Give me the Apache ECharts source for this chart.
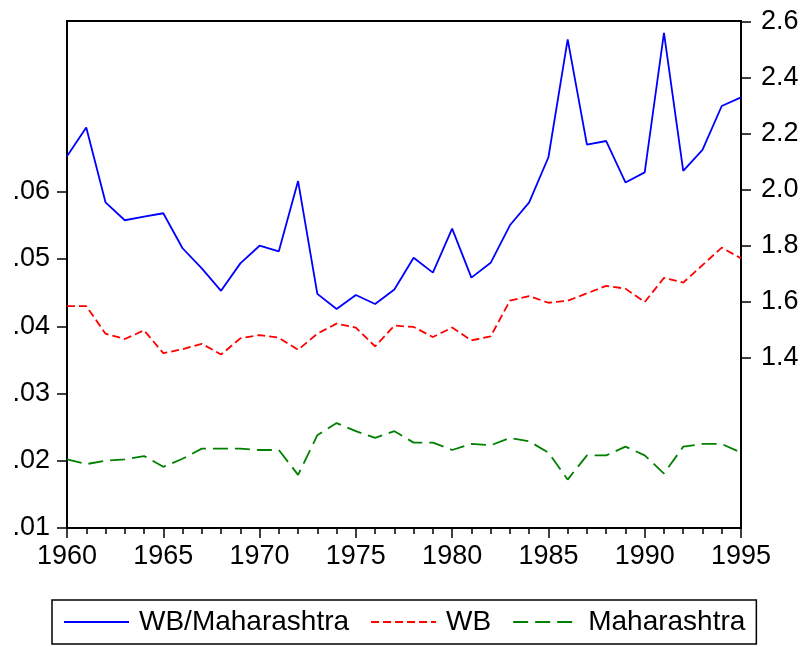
<!DOCTYPE html>
<html>
<head>
<meta charset="utf-8">
<script src="https://cdn.jsdelivr.net/npm/echarts@6/dist/echarts.min.js"></script>
<style>
  html, body { margin: 0; padding: 0; background: #fff; }
  #container { width: 806px; height: 647px; }
</style>
</head>
<body>
<div id="container"></div>
<script>
// years 1960..1995
var years = [];
for (var y = 1960; y <= 1995; y++) years.push(y);

// ratio, plotted on the right axis
var wbMaharashtra = [2.121, 2.223, 1.956, 1.892, 1.905, 1.917, 1.792, 1.720, 1.640, 1.738,
    1.801, 1.781, 2.032, 1.629, 1.575, 1.625, 1.593, 1.645, 1.758, 1.705,
    1.862, 1.687, 1.740, 1.874, 1.956, 2.117, 2.538, 2.162, 2.175, 2.027,
    2.063, 2.561, 2.068, 2.143, 2.300, 2.331];

// left axis
var wb = [0.0430, 0.0430, 0.0389, 0.0381, 0.0394, 0.0360, 0.0366, 0.0374, 0.0358, 0.0382,
    0.0387, 0.0383, 0.0365, 0.0389, 0.0404, 0.0398, 0.0370, 0.0401, 0.0399, 0.0384,
    0.0398, 0.0379, 0.0385, 0.0438, 0.0445, 0.0435, 0.0438, 0.0449, 0.0460, 0.0456,
    0.0436, 0.0472, 0.0465, 0.0491, 0.0517, 0.0501];

var maharashtra = [0.0202, 0.0195, 0.0200, 0.0202, 0.0207, 0.0191, 0.0203, 0.0218, 0.0218, 0.0218,
    0.0216, 0.0216, 0.0179, 0.0238, 0.0256, 0.0244, 0.0234, 0.0244, 0.0227, 0.0227,
    0.0216, 0.0225, 0.0223, 0.0234, 0.0229, 0.0212, 0.0172, 0.0208, 0.0208, 0.0221,
    0.0208, 0.0181, 0.0221, 0.0225, 0.0225, 0.0212];

var leftTicks = [0.01, 0.02, 0.03, 0.04, 0.05, 0.06];
var rightTicks = [1.4, 1.6, 1.8, 2.0, 2.2, 2.4, 2.6];

function pairs(vals) {
    return vals.map(function (v, i) { return [years[i], v]; });
}

var font = 'Liberation Sans';
var myChart = echarts.init(document.getElementById('container'), null, { renderer: 'canvas' });

var option = {
    animation: false,
    backgroundColor: '#fff',
    grid: {
        left: 67, right: 65, top: 21, bottom: 119,
        show: true,
        borderColor: '#000',
        borderWidth: 2
    },
    legend: {
        left: 52,
        top: 600,
        padding: [8, 11, 8, 11],
        borderColor: '#000',
        borderWidth: 1.5,
        itemWidth: 65,
        itemHeight: 14,
        itemGap: 21,
        // hide the symbol that the line legend icon draws
        itemStyle: { color: 'rgba(0,0,0,0)', borderWidth: 0, opacity: 0 },
        textStyle: { fontFamily: font, fontSize: 28, color: '#000', padding: [0, 0, 0, 5] },
        data: ['WB/Maharashtra', 'WB', 'Maharashtra']
    },
    xAxis: {
        type: 'value',
        min: 1960,
        max: 1995,
        interval: 5,
        axisLine: { show: true, lineStyle: { color: '#000', width: 2 } },
        axisTick: { show: true, length: 10, lineStyle: { color: '#000', width: 1.5 } },
        minorTick: { show: true, splitNumber: 5, length: 6, lineStyle: { color: '#000', width: 1.5 } },
        splitLine: { show: false },
        axisLabel: {
            margin: 15,
            color: '#000',
            fontFamily: font,
            fontSize: 27,
            formatter: function (v) { return String(v); }
        }
    },
    yAxis: [
        {
            type: 'value',
            position: 'left',
            min: 0.01,
            max: 0.0854,
            axisLine: { show: true, lineStyle: { color: '#000', width: 2 } },
            axisTick: { show: true, length: 10, customValues: leftTicks, lineStyle: { color: '#000', width: 1.5 } },
            splitLine: { show: false },
            axisLabel: {
                margin: 17,
                color: '#000',
                fontFamily: font,
                fontSize: 27,
                customValues: leftTicks,
                formatter: function (v) { return v.toFixed(2).replace(/^0/, ''); }
            }
        },
        {
            type: 'value',
            position: 'right',
            min: 0.7929,
            max: 2.6036,
            axisLine: { show: true, lineStyle: { color: '#000', width: 2 } },
            axisTick: { show: true, length: 10, customValues: rightTicks, lineStyle: { color: '#000', width: 1.5 } },
            splitLine: { show: false },
            axisLabel: {
                margin: 20,
                color: '#000',
                fontFamily: font,
                fontSize: 27,
                customValues: rightTicks,
                formatter: function (v) { return v.toFixed(1); }
            }
        }
    ],
    series: [
        {
            name: 'WB/Maharashtra',
            type: 'line',
            yAxisIndex: 1,
            symbol: 'none',
            lineStyle: { color: '#0000ff', width: 1.8, type: 'solid' },
            itemStyle: { color: '#0000ff' },
            data: pairs(wbMaharashtra)
        },
        {
            name: 'WB',
            type: 'line',
            yAxisIndex: 0,
            symbol: 'none',
            lineStyle: { color: '#ff0000', width: 1.8, type: [8, 4] },
            itemStyle: { color: '#ff0000' },
            data: pairs(wb)
        },
        {
            name: 'Maharashtra',
            type: 'line',
            yAxisIndex: 0,
            symbol: 'none',
            lineStyle: { color: '#008000', width: 1.8, type: [15, 7] },
            itemStyle: { color: '#008000' },
            data: pairs(maharashtra)
        }
    ]
};

myChart.setOption(option);
window.addEventListener('resize', myChart.resize);
</script>
</body>
</html>
